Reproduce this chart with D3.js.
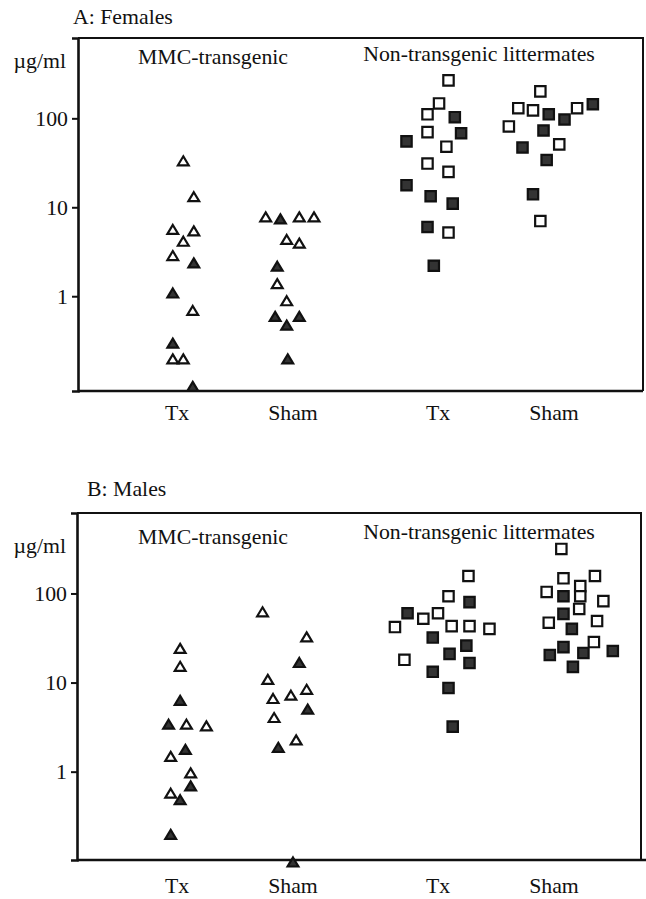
<!DOCTYPE html>
<html><head><meta charset="utf-8">
<script src="https://cdn.jsdelivr.net/npm/d3@7"></script>
<style>
body{margin:0;background:#fff}
text{font-family:"Liberation Serif","Times New Roman",serif;font-size:20px;fill:#111}
</style>
</head><body>
<svg id="chart" width="646" height="899"></svg>
<script>
// ---------- data ----------
const genotypes = ["MMC-transgenic", "Non-transgenic littermates"];
const treatments = ["Tx", "Sham"];
const tickValues = [1, 10, 100];
const unitLabel = "µg/ml";
const panelTitles = ["A: Females", "B: Males"];
const femaleDomain = [0.086, 800];
const maleDomain = [0.102, 800];

// each point: [value (µg/ml), filled (1) / open (0), jitter column]
const femaleMmcTx = [[33.7,0,0.6],[13.3,0,1.6],[5.7,0,-0.4],[5.5,0,1.6],[4.2,0,0.6],[2.9,0,-0.4],[2.4,1,1.6],[1.1,1,-0.4],[0.70,0,1.5],[0.30,1,-0.4],[0.20,0,-0.4],[0.20,0,0.6],[0.098,1,1.5]];
const femaleMmcSham = [[7.9,0,-2.6],[7.5,1,-1.2],[7.9,0,0.6],[7.9,0,2.0],[4.4,0,-0.6],[4.0,0,0.6],[2.2,1,-1.5],[1.4,0,-1.5],[0.9,0,-0.6],[0.60,1,-1.7],[0.60,1,0.6],[0.48,1,-0.6],[0.20,1,-0.5]];
const femaleNtTx = [[267,0,1.0],[147,0,0.1],[111,0,-1.0],[103,1,1.6],[70,0,-1.0],[68,1,2.2],[55,1,-3.0],[48,0,0.8],[31,0,-1.0],[25,0,1.0],[17.7,1,-3.0],[13.3,1,-0.7],[11,1,1.4],[6.0,1,-1.0],[5.2,0,1.0],[2.2,1,-0.4]];
const femaleNtSham = [[201,0,-1.3],[130,0,-3.4],[123,0,-2.0],[130,0,2.2],[144,1,3.7],[111,1,-0.5],[97,1,1.0],[81,0,-4.3],[73,1,-1.0],[51,0,0.5],[47,1,-3.0],[34,1,-0.7],[14,1,-2.0],[7.0,0,-1.3]];

const maleMmcTx = [[24.5,0,0.3],[15.4,0,0.3],[6.4,1,0.3],[3.45,1,-0.8],[3.45,0,0.9],[3.3,0,2.8],[1.8,1,0.8],[1.5,0,-0.6],[0.98,0,1.3],[0.70,1,1.3],[0.58,0,-0.6],[0.49,1,0.3],[0.20,1,-0.6]];
const maleMmcSham = [[63,0,-2.9],[33,0,1.3],[17,1,0.6],[11,0,-2.4],[6.7,0,-1.9],[7.3,0,-0.2],[8.5,0,1.3],[5.1,1,1.4],[4.1,0,-1.8],[1.9,1,-1.4],[2.3,0,0.3],[0.098,1,0]];
const maleNtTx = [[157,0,2.9],[93,0,1.0],[80,1,3.0],[60,1,-2.9],[60,0,0],[52,0,-1.4],[42,0,-4.1],[43,0,1.3],[43,0,3.0],[40,0,4.9],[32,1,-0.5],[26,1,2.7],[21,1,1.1],[18,0,-3.2],[16.6,1,3.0],[13.2,1,-0.5],[8.7,1,1.0],[3.2,1,1.4]];
const maleNtSham = [[316,0,0.7],[157,0,3.9],[148,0,0.9],[121,0,2.5],[104,0,-0.7],[93,1,0.9],[93,0,2.5],[82,0,4.7],[67,0,2.4],[59,1,0.9],[47,0,-0.5],[49,0,4.1],[40,1,1.7],[28.5,0,3.8],[25,1,0.9],[20.4,1,-0.4],[21.5,1,2.8],[22.6,1,5.6],[15,1,1.8]];

// ---------- layout ----------
const svg = d3.select("#chart");
const STRETCH = 1.09;       // horizontal text stretch of the original scan
const COL = 10.5;           // jitter column width (px)

const panels = [
  {title: panelTitles[0], domain: femaleDomain, left: 78, right: 643, top: 38, bottom: 391, axisEnd: 643,
   titleX: 73, titleY: 24, unitY: 68, headY: [64, 61], catY: 420,
   groups: [[femaleMmcTx, femaleMmcSham], [femaleNtTx, femaleNtSham]]},
  {title: panelTitles[1], domain: maleDomain, left: 77, right: 641, top: 513, bottom: 860, axisEnd: 646,
   titleX: 87, titleY: 496, unitY: 553, headY: [544, 539], catY: 893,
   groups: [[maleMmcTx, maleMmcSham], [maleNtTx, maleNtSham]]}
];

const outer = d3.scaleBand().domain(genotypes).range([104.5, 626.5]).paddingInner(0).paddingOuter(0);
const inner = d3.scalePoint().domain(treatments).range([0, outer.bandwidth()]).padding(0.625);
const headX = {"MMC-transgenic": -22, "Non-transgenic littermates": -17};

function stretchedText(g, str, x, y, anchor) {
  return g.append("text")
    .attr("transform", `translate(${x},${y}) scale(${STRETCH},1)`)
    .attr("text-anchor", anchor || "start")
    .text(str);
}

const triPath = "M0,-4.05L5.4,4.95L-5.4,4.95Z";
const sqPath = "M-5.2,-5.2H5.2V5.2H-5.2Z";

panels.forEach(p => {
  const g = svg.append("g");
  const y = d3.scaleLog().domain(p.domain).range([p.bottom, p.top]);

  // frame
  g.append("path")
    .attr("d", `M${p.left},${p.top}H${p.right}V${p.bottom}`)
    .attr("fill", "none").attr("stroke", "#111").attr("stroke-width", 2);
  g.append("line")
    .attr("x1", p.left).attr("x2", p.axisEnd).attr("y1", p.bottom).attr("y2", p.bottom)
    .attr("stroke", "#111").attr("stroke-width", 2.6);

  // y axis
  const ax = g.append("g").attr("transform", `translate(${p.left},0)`)
    .call(d3.axisLeft(y).tickValues(tickValues).tickFormat(d3.format("d")).tickSize(6).tickPadding(4));
  ax.select(".domain").attr("stroke", "#111").attr("stroke-width", 2.6);
  ax.selectAll(".tick line").attr("stroke", "#111").attr("stroke-width", 2);
  ax.selectAll(".tick text").each(function() {
    const t = d3.select(this);
    t.attr("x", null).attr("dy", null).attr("font-size", null).attr("font-family", null)
     .attr("text-anchor", "end")
     .attr("transform", `translate(-10,6.8) scale(${STRETCH},1)`);
  });
  ax.attr("font-size", null).attr("font-family", null);

  // titles
  stretchedText(g, p.title, p.titleX, p.titleY);
  stretchedText(g, unitLabel, 66, p.unitY, "end");

  genotypes.forEach((gen, gi) => {
    const cx = outer(gen) + outer.bandwidth() / 2;
    stretchedText(g, gen, cx + headX[gen], p.headY[gi], "middle");
    treatments.forEach((tr, ti) => {
      const x0 = outer(gen) + inner(tr);
      stretchedText(g, tr, x0, p.catY, "middle");
      const pts = p.groups[gi][ti];
      g.selectAll(null).data(pts).enter().append("path")
        .attr("d", gi === 0 ? triPath : sqPath)
        .attr("transform", d => `translate(${x0 + d[2] * COL},${y(d[0])})`)
        .attr("fill", d => d[1] ? "#333" : "#fff")
        .attr("stroke", "#111")
        .attr("stroke-width", 2.2)
        .attr("stroke-linejoin", "miter");
    });
  });
});
</script>
</body></html>
